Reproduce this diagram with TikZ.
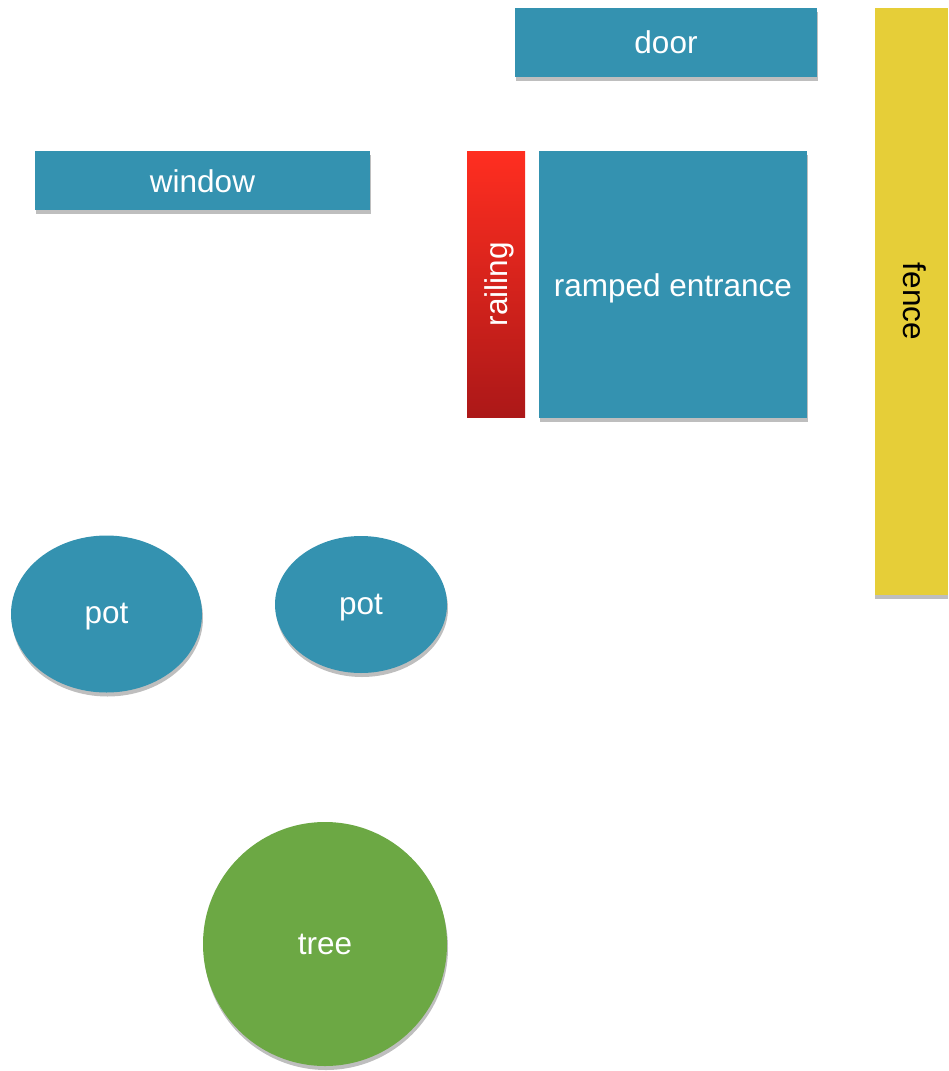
\documentclass[tikz,border=0pt]{standalone}
\usepackage{fontspec}
\setmainfont{Liberation Sans}
\usetikzlibrary{shadows,shapes.geometric}
\definecolor{tilecolor}{RGB}{52,146,176}
\definecolor{treecolor}{RGB}{108,168,68}
\definecolor{fencecolor}{RGB}{230,206,56}
\definecolor{railtop}{RGB}{255,46,32}
\definecolor{railbottom}{RGB}{172,24,24}
\definecolor{shadecolor}{RGB}{190,190,190}
\tikzset{
  plan/.style={inner sep=0pt, font=\fontsize{31.5}{36}\selectfont, text=white},
  shade drop/.style={drop shadow={shadow xshift=1pt, shadow yshift=-4pt, fill=shadecolor, opacity=1}},
  tile/.style={plan, rectangle, fill=tilecolor, shade drop},
  pot/.style={plan, ellipse, fill=tilecolor, shade drop},
}
\begin{document}
\begin{tikzpicture}[x=1pt,y=-1pt]
\useasboundingbox (0,0) rectangle (948,1071);
% blue tiles
\foreach \n/\x/\y/\w/\h/\d/\t in {
  door/666/42.5/302/69/0/door,
  window/202.5/180.5/335/59/1/window,
  ramp/673/284.5/268/267/4/{ramped entrance}
}{
  \node[tile, minimum width=\w pt, minimum height=\h pt] (\n) at (\x,\y) {};
  \node[plan] at ([yshift=-\d pt]\n.center) {\t};
}
\node[plan, rectangle, top color=railtop, bottom color=railbottom,
  minimum width=58pt, minimum height=266pt] (railing) at (496,284) {};
\node[plan, rotate=90] at ([xshift=3pt]railing.center) {railing};
\node[plan, rectangle, fill=fencecolor, text=black,
  drop shadow={shadow xshift=0pt, shadow yshift=-4pt, fill=shadecolor, opacity=1},
  minimum width=73pt, minimum height=587pt] (fence) at (911.5,301.5) {};
\node[plan, text=black, rotate=-90] at ([xshift=3pt]fence.center) {fence};
% pots and tree
\node[pot, minimum width=191pt, minimum height=157pt] (pot1) at (106.5,614) {};
\node[plan] at ([yshift=-3pt]pot1.center) {pot};
\node[pot, minimum width=172pt, minimum height=137pt] (pot2) at (361,604.5) {};
\node[plan] at ([yshift=-3pt]pot2.center) {pot};
\node[plan, circle, fill=treecolor, shade drop, minimum size=244pt] (tree) at (325,944) {tree};
\end{tikzpicture}
\end{document}
